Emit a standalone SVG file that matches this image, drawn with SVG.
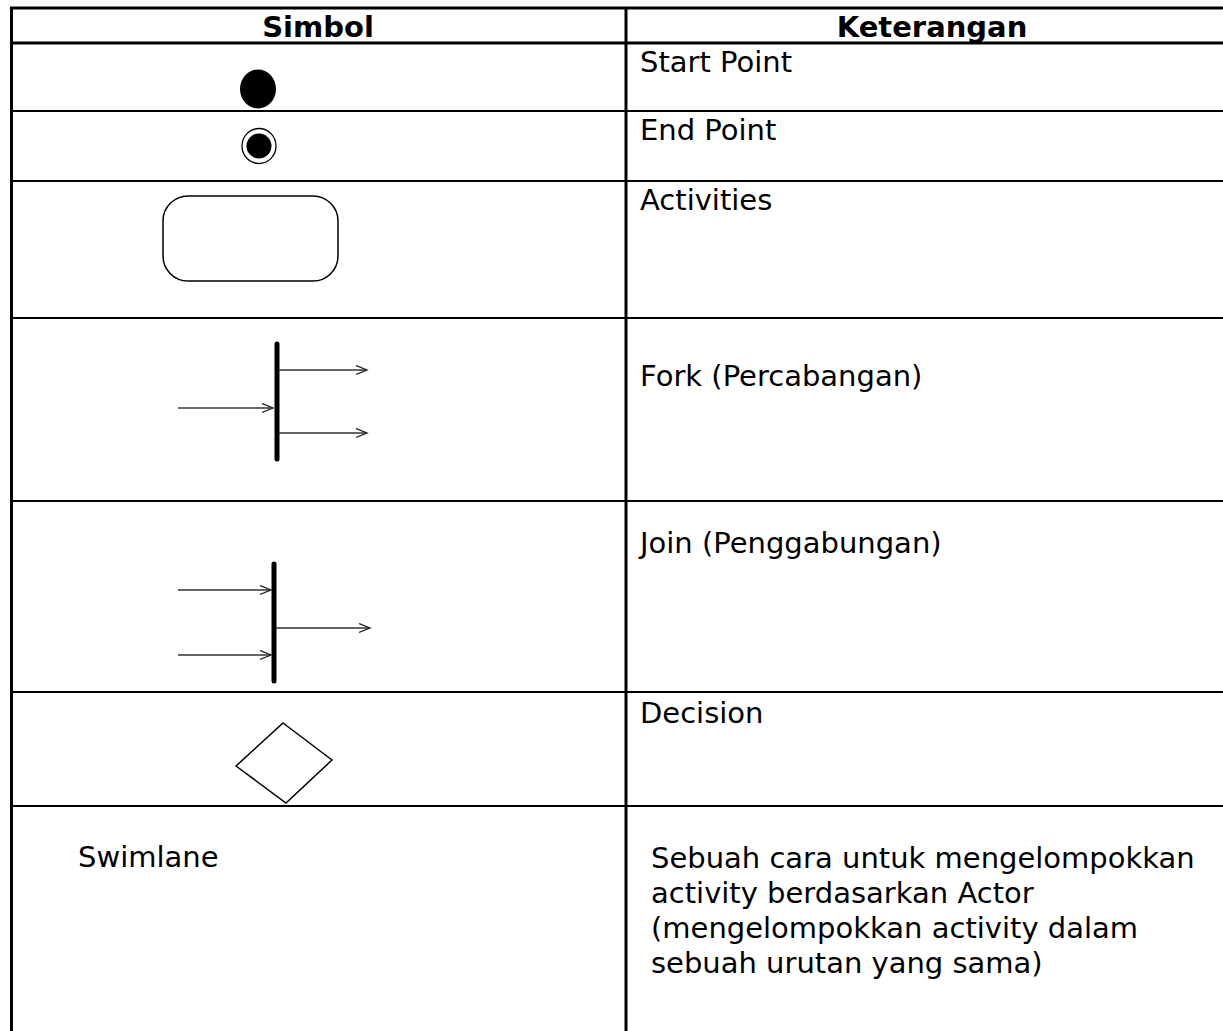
<svg xmlns="http://www.w3.org/2000/svg" width="1223" height="1031" viewBox="0 0 1223 1031">
<style>
.t{font-family:"DejaVu Sans","Liberation Sans",sans-serif;font-size:29px;fill:#000}
.h{font-family:"DejaVu Sans","Liberation Sans",sans-serif;font-size:29px;font-weight:bold;fill:#000;text-anchor:middle}
.grid{stroke:#000;stroke-width:2;fill:none}
.thick{stroke:#000;stroke-width:3;fill:none}
.bar{stroke:#000;stroke-width:5;stroke-linecap:round}
.arr{stroke:#333;stroke-width:1.3;fill:none;marker-end:url(#ah)}
.shape{stroke:#000;stroke-width:1.5;fill:#fff}
</style>
<defs>
<marker id="ah" markerUnits="userSpaceOnUse" markerWidth="14" markerHeight="12" refX="11" refY="5" orient="auto">
<path d="M0,0.5 L11,5 L0,9.5" fill="none" stroke="#222" stroke-width="1.3"/>
</marker>
</defs>
<rect width="1223" height="1031" fill="#fff"/>
<g id="table">
<line class="thick" x1="10" y1="8" x2="1223" y2="8"/>
<line class="thick" x1="10" y1="43" x2="1223" y2="43"/>
<line class="grid" x1="10" y1="111" x2="1223" y2="111"/>
<line class="grid" x1="10" y1="181" x2="1223" y2="181"/>
<line class="grid" x1="10" y1="318" x2="1223" y2="318"/>
<line class="grid" x1="10" y1="501" x2="1223" y2="501"/>
<line class="grid" x1="10" y1="692" x2="1223" y2="692"/>
<line class="grid" x1="10" y1="806" x2="1223" y2="806"/>
<line class="thick" x1="11.5" y1="7" x2="11.5" y2="1031"/>
<line class="thick" x1="626" y1="7" x2="626" y2="1031"/>
</g>
<g id="header">
<text class="h" x="318" y="37">Simbol</text>
<text class="h" x="932" y="37">Keterangan</text>
</g>
<g id="start-point">
<ellipse cx="258" cy="89" rx="18" ry="19.5" fill="#000"/>
<text class="t" x="640" y="72">Start Point</text>
</g>
<g id="end-point">
<ellipse cx="259" cy="146" rx="17" ry="17.5" fill="#fff" stroke="#000" stroke-width="1.3"/>
<circle cx="259" cy="146" r="12.5" fill="#000"/>
<text class="t" x="640" y="140">End Point</text>
</g>
<g id="activities">
<rect class="shape" x="163" y="196" width="175" height="85" rx="25" ry="25"/>
<text class="t" x="640" y="210">Activities</text>
</g>
<g id="fork">
<line class="bar" x1="277" y1="344" x2="277" y2="459"/>
<text class="t" x="640" y="386">Fork (Percabangan)</text>
</g>
<g id="join">
<line class="bar" x1="274" y1="564" x2="274" y2="681"/>
<text class="t" x="640" y="553">Join (Penggabungan)</text>
</g>
<g id="decision">
<polygon class="shape" points="283,723 332,760 286,803 236,766"/>
<text class="t" x="640" y="723">Decision</text>
</g>
<g id="swimlane">
<text class="t" x="78" y="867">Swimlane</text>
<text class="t" x="651" y="868">Sebuah cara untuk mengelompokkan</text>
<text class="t" x="651" y="903">activity berdasarkan Actor</text>
<text class="t" x="651" y="938">(mengelompokkan activity dalam</text>
<text class="t" x="651" y="973">sebuah urutan yang sama)</text>
</g>
<g id="connectors">
<line class="arr" x1="178" y1="408" x2="273" y2="408"/>
<line class="arr" x1="279" y1="370" x2="367" y2="370"/>
<line class="arr" x1="279" y1="433" x2="367" y2="433"/>
<line class="arr" x1="178" y1="590" x2="271" y2="590"/>
<line class="arr" x1="178" y1="655" x2="271" y2="655"/>
<line class="arr" x1="276" y1="628" x2="370" y2="628"/>
</g>
</svg>
